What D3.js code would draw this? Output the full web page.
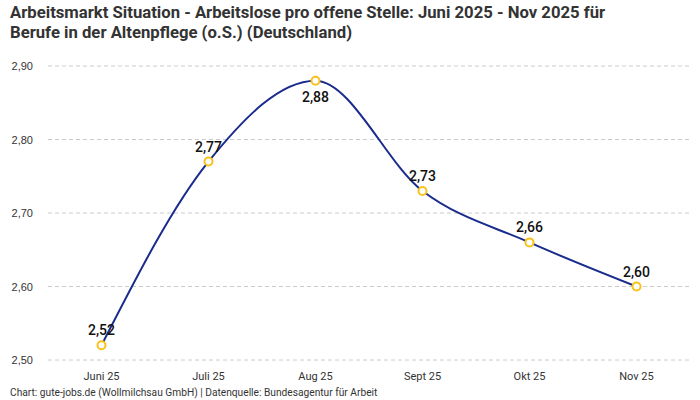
<!DOCTYPE html>
<html>
<head>
<meta charset="utf-8">
<script src="https://cdn.jsdelivr.net/npm/d3@7"></script>
<style>
  body { margin: 0; background: #fff; }
  svg { display: block; }
</style>
</head>
<body>
<div id="chart"></div>
<script>
var months = ["Juni 25", "Juli 25", "Aug 25", "Sept 25", "Okt 25", "Nov 25"];
var values = [2.52, 2.77, 2.88, 2.73, 2.66, 2.60];
var labelBelow = [false, false, true, false, false, false];
var yTicks = [2.5, 2.6, 2.7, 2.8, 2.9];

var width = 700, height = 400;
var margin = {top: 66, right: 10, bottom: 40, left: 48};

var svg = d3.select("#chart").append("svg")
    .attr("width", width)
    .attr("height", height);

var x = d3.scaleBand()
    .domain(months)
    .range([margin.left, width - margin.right]);

var y = d3.scaleLinear()
    .domain([2.5, 2.9])
    .range([360, 66]);

var fmt = function(v) { return d3.format(".2f")(v).replace(".", ","); };

// title
svg.append("text")
    .attr("x", 10).attr("y", 18)
    .style("font-family", "Roboto")
    .style("font-weight", "bold")
    .style("font-size", "16.7px")
    .attr("fill", "#333")
    .text("Arbeitsmarkt Situation - Arbeitslose pro offene Stelle: Juni 2025 - Nov 2025 für");
svg.append("text")
    .attr("x", 10).attr("y", 38)
    .style("font-family", "Roboto")
    .style("font-weight", "bold")
    .style("font-size", "16.7px")
    .attr("fill", "#333")
    .text("Berufe in der Altenpflege (o.S.) (Deutschland)");

// grid + y labels
var grid = svg.append("g");
grid.selectAll("line").data(yTicks).enter().append("line")
    .attr("x1", margin.left).attr("x2", width - margin.right)
    .attr("y1", function(d) { return y(d); })
    .attr("y2", function(d) { return y(d); })
    .attr("stroke", "#ccc")
    .attr("stroke-dasharray", "4,3");
grid.selectAll("text").data(yTicks).enter().append("text")
    .attr("x", 33)
    .attr("y", function(d) { return y(d) + 4; })
    .attr("text-anchor", "end")
    .style("font-family", "Liberation Sans")
    .style("font-size", "11px")
    .attr("fill", "#333")
    .text(fmt);

// x axis
var xAxis = d3.axisBottom(x).tickSize(0).tickPadding(0);
var gx = svg.append("g")
    .attr("transform", "translate(0," + 372 + ")")
    .call(xAxis);
gx.select(".domain").remove();
gx.selectAll("text")
    .style("font-family", "Roboto")
    .style("font-size", "11px")
    .attr("fill", "#333")
    .attr("dy", "0.71em");

// line
var cx = function(d, i) { return x(months[i]) + x.bandwidth() / 2; };
var line = d3.line()
    .x(cx)
    .y(function(d) { return y(d); })
    .curve(d3.curveMonotoneX);

svg.append("path")
    .datum(values)
    .attr("d", line)
    .attr("fill", "none")
    .attr("stroke", "#1a2b8c")
    .attr("stroke-width", 2);

svg.selectAll("circle.pt").data(values).enter().append("circle")
    .attr("class", "pt")
    .attr("cx", cx)
    .attr("cy", function(d) { return y(d); })
    .attr("r", 4)
    .attr("fill", "#fff")
    .attr("stroke", "#f7c21b")
    .attr("stroke-width", 2);

svg.selectAll("text.val").data(values).enter().append("text")
    .attr("class", "val")
    .attr("x", cx)
    .attr("y", function(d, i) { return labelBelow[i] ? y(d) + 21 : y(d) - 10; })
    .attr("text-anchor", "middle")
    .style("font-family", "Roboto")
    .style("font-weight", "500")
    .style("font-size", "14px")
    .attr("fill", "#111")
    .text(fmt);

// footer
svg.append("text")
    .attr("x", 10).attr("y", 396)
    .style("font-family", "Roboto")
    .style("font-size", "10.2px")
    .attr("fill", "#333")
    .text("Chart: gute-jobs.de (Wollmilchsau GmbH) | Datenquelle: Bundesagentur für Arbeit");
</script>
</body>
</html>
